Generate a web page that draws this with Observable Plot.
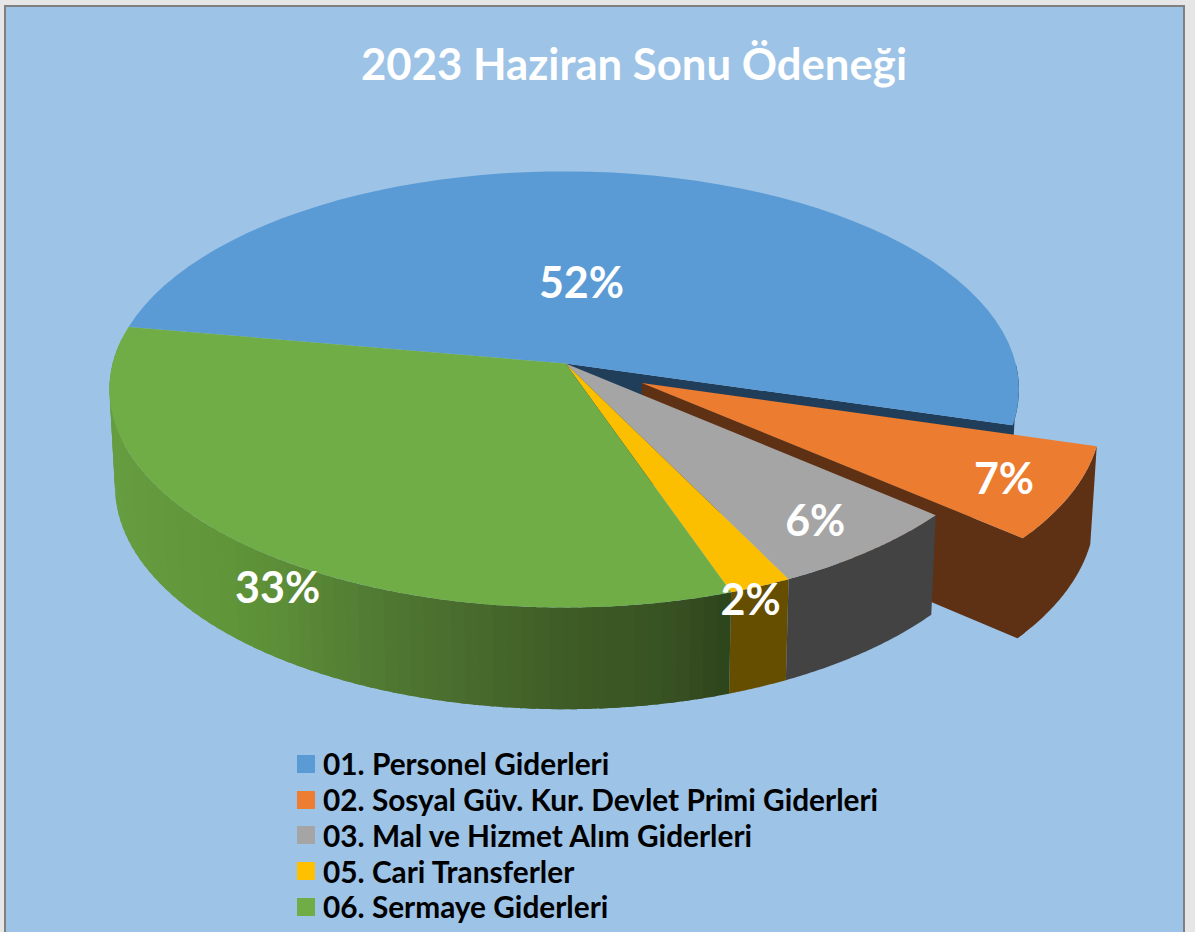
<!DOCTYPE html>
<html>
<head>
<meta charset="utf-8">
<script src="https://cdn.jsdelivr.net/npm/d3@7"></script>
<script src="https://cdn.jsdelivr.net/npm/@observablehq/plot@0.6"></script>
<style>
html,body{margin:0;padding:0;background:#e6e6e6;width:1195px;height:932px;overflow:hidden;}
#frame{position:absolute;left:4px;top:5px;width:1177px;height:927px;background:#9dc3e6;border:2px solid #808080;border-bottom:none;font-family:Lato,sans-serif;}
#title{position:absolute;left:0;width:1177px;top:28px;text-align:center;color:#fff;font-weight:700;font-size:43.7px;line-height:56px;padding-left:79px;box-sizing:border-box;}
#chart{position:absolute;left:-6px;top:113px;width:1195px;}
#legend{position:absolute;left:291px;top:739px;}
.row{display:flex;align-items:center;height:35.75px;color:#000;font-weight:700;font-size:29.8px;white-space:nowrap;}
.sw{width:18px;height:18px;margin-right:8px;flex:none;}
</style>
</head>
<body>
<div id="frame">
  <div id="title"></div>
  <div id="chart"></div>
  <div id="legend"></div>
</div>
<script>
const titleText = "2023 Haziran Sonu Ödeneği";
const categories = ["01. Personel Giderleri","02. Sosyal Güv. Kur. Devlet Primi Giderleri","03. Mal ve Hizmet Alım Giderleri","05. Cari Transferler","06. Sermaye Giderleri"];
const shares = [51.7, 6.8, 6.4, 2.0, 33.1];
const shareLabels = ["52%","7%","6%","2%","33%"];
const topColors = ["#5b9bd5","#ec7c30","#a5a5a5","#fbbf00","#70ad47"];
const swatchColors = ["#5b9bd5","#ed7d31","#a5a5a5","#ffc000","#70ad47"];
const wallColors = ["#203e59","#5e3014","#434343","#664e00",null];
const explode = [0,0.19,0,0,0];
const labelDisc = [[0.04,-0.385],[0.915,0.51],[0.511,0.68],[0.365,0.977],[-0.564,0.935]];
const greenWallX = [116,230,280,390,480,565,650,700,728];
const greenWallShade = ["#669d40","#609539","#5c8d38","#4f7732","#47692c","#3e5c26","#395423","#33491f","#2a4419"];

// view geometry
const startDeg = 280, cx = 563.7, cy = 363, cyBase = 459, R = 451.5, RBase = 446, H = 215, HBase = 220, k = 0.119, apexDx = 1.3;
const svgTop = 120, svgH = 610;
const rad = d => d * Math.PI / 180;
const proj = (u, v, base) => {
  const s = 1 / (1 - k * v);
  return base ? [cx + RBase * u * s, cyBase + HBase * v * s] : [cx + R * u * s, cy + H * v * s];
};
const total = d3.sum(shares);
let acc = startDeg;
const slices = shares.map((p, i) => {
  const a0 = acc, a1 = acc + p / total * 360; acc = a1;
  const m = rad((a0 + a1) / 2);
  return {i, a0, a1, ou: explode[i] * Math.sin(m), ov: -explode[i] * Math.cos(m)};
});
const rim = (s, a, base) => proj(s.ou + Math.sin(rad(a)), s.ov - Math.cos(rad(a)), base);
const apex = (s, base) => { const [x, y] = proj(s.ou, s.ov, base); return [x + apexDx, y]; };
const arc = (s, a0, a1, base) => d3.range(0, 61).map(j => rim(s, a0 + (a1 - a0) * j / 60, base));

const rows = [];
let pid = 0;
const addPoly = (pts, color) => { const id = pid++; pts.forEach(([x, y]) => rows.push({id, x, y, color})); };
const wall = (s, a0, a1, color) => addPoly([...arc(s, a0, a1, false), ...arc(s, a0, a1, true).reverse()], color);
// the cut face reaches a little way over the wall so that no seam shows between them
const endFace = (s, color) => addPoly([apex(s, false), rim(s, s.a1, false), rim(s, s.a1 - 1.5, false), rim(s, s.a1 - 1.5, true), rim(s, s.a1, true), apex(s, true)], color);
const topFace = (s) => addPoly([apex(s, false), ...arc(s, s.a0, s.a1, false)], topColors[s.i]);
const greenShade = d3.scaleLinear().domain(greenWallX).range(greenWallShade).clamp(true);

// painter's order, back to front
const [blue, orange, gray, yellow, green] = slices;
wall(blue, 450, blue.a1, wallColors[0]);
endFace(blue, wallColors[0]);
topFace(blue);
wall(orange, orange.a0, orange.a1, wallColors[1]);
endFace(orange, wallColors[1]);
topFace(orange);
wall(gray, gray.a0, gray.a1, wallColors[2]);
topFace(gray);
wall(yellow, yellow.a0, yellow.a1, wallColors[3]);
topFace(yellow);
// the green wall is shaded band by band; each band runs under the next so no seams show
const bandDeg = 1.6, bandLap = 0.8;
for (let a = green.a0; a < Math.min(green.a1, 635); a += bandDeg) {
  const b = Math.min(a + bandDeg + bandLap, green.a1);
  const top = arc(green, a, b, false), bot = arc(green, a, b, true);
  const midX = (bot[0][0] + bot[bot.length - 1][0]) / 2;
  addPoly([...top, ...bot.reverse()], d3.color(greenShade(midX)).formatHex());
}
topFace(green);

const labels = shareLabels.map((t, i) => {
  const [x, y] = proj(labelDisc[i][0], labelDisc[i][1], false);
  return {t, x, y};
});

const plot = Plot.plot({
  width: 1195, height: svgH,
  margin: 0,
  x: {domain: [0, 1195], range: [0, 1195], axis: null},
  y: {domain: [svgTop, svgTop + svgH], range: [0, svgH], axis: null},
  style: {background: "transparent", overflow: "visible", maxWidth: "none"},
  marks: [
    Plot.line(rows, {x: "x", y: "y", z: "id", fill: "color", stroke: "none", curve: "linear-closed"}),
    Plot.text(labels, {x: "x", y: "y", text: "t", fill: "#fff", fontSize: 43, fontWeight: 700, fontFamily: "Lato", textAnchor: "middle", lineAnchor: "middle"})
  ]
});
document.getElementById("chart").appendChild(plot);
document.getElementById("title").textContent = titleText;
const legend = document.getElementById("legend");
categories.forEach((c, i) => {
  const r = document.createElement("div"); r.className = "row";
  const sw = document.createElement("span"); sw.className = "sw"; sw.style.background = swatchColors[i];
  const t = document.createElement("span"); t.textContent = c;
  r.append(sw, t); legend.append(r);
});
</script>
</body>
</html>
